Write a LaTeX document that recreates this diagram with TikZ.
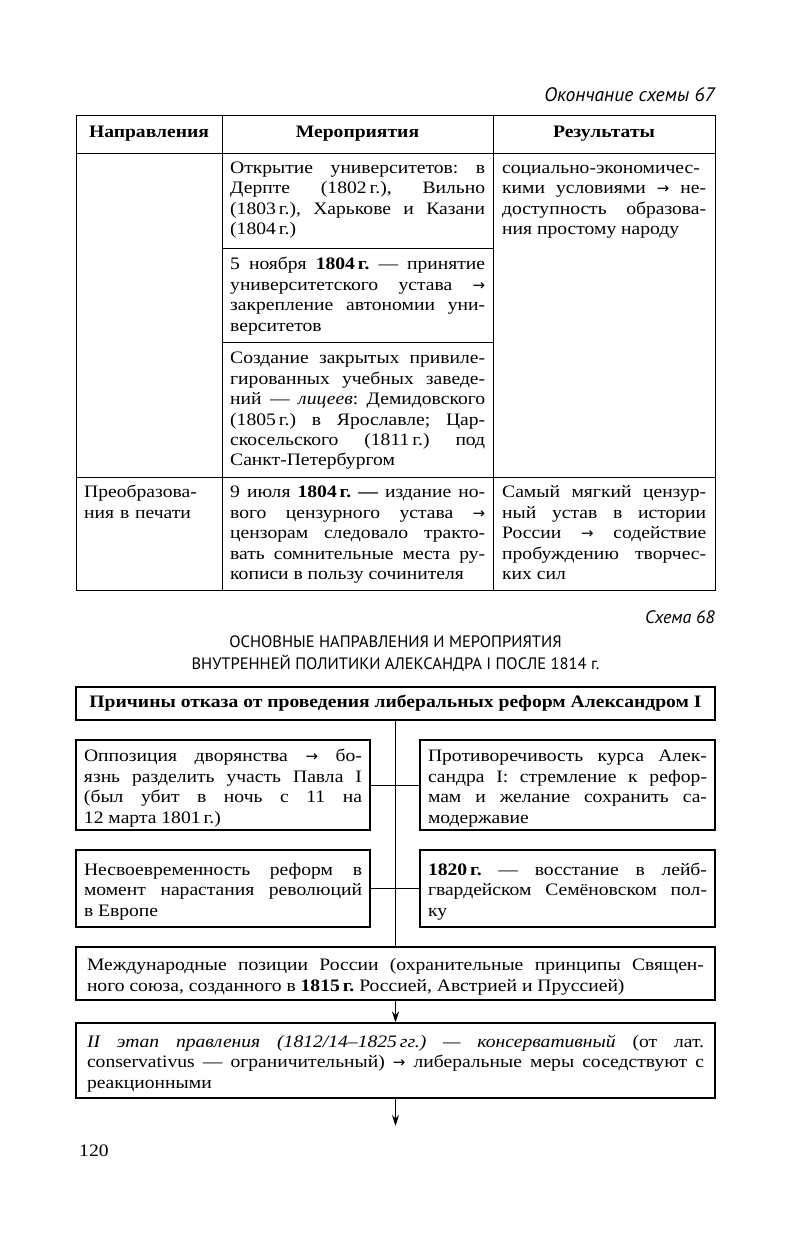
\documentclass[tikz,border=0pt]{standalone}
\usepackage{fontspec}
\setmainfont[FakeStretch=1.12]{Liberation Serif}
\newfontfamily\capfont{PT Sans}
\newfontfamily\arrowfont{DejaVu Sans}
\usetikzlibrary{arrows.meta}
\frenchspacing
\tolerance=9999
\hyphenpenalty=10000
\newcommand\jl[1]{#1\linebreak}
\newcommand\ar{{\arrowfont\fontsize{15}{15}\selectfont →}}
\begin{document}
\begin{tikzpicture}[x=1pt,y=-1pt,
  txt/.style={font=\fontsize{17.5}{20.4}\selectfont},
  cell/.style={txt, anchor=north west, align=justify, inner xsep=8pt, inner ysep=6.5pt,
    execute at begin node={\strut}},
  head/.style={txt, font=\fontsize{17.5}{20.4}\selectfont\bfseries},
  grid/.style={line width=0.9pt},
  box/.style={txt, draw, line width=1.1pt, align=justify, inner xsep=8pt, inner ysep=0pt,
    execute at begin node={\rule{0pt}{21pt}}, execute at end node={\strut}},
  wide/.style={box, text width=617pt, inner xsep=11pt},
  link/.style={line width=0.9pt},
  arr/.style={line width=0.9pt, -{Stealth[length=11pt,width=7pt]}}]
\fill[white] (0,0) rectangle (791,1245);
\useasboundingbox (0,0) rectangle (791,1245);

% captions
\node[anchor=east, font=\capfont\itshape\fontsize{19.5}{20}\selectfont, inner sep=0pt] (cap67) at (715,95) {Окончание схемы 67};

% table grid
\draw[grid] (76,115) rectangle (715,590);
\draw[grid] (76,153) -- (715,153);
\draw[grid] (76,477) -- (715,477);
\draw[grid] (222,115) -- (222,590);
\draw[grid] (493,115) -- (493,590);
\draw[grid] (222,248) -- (493,248);
\draw[grid] (222,342) -- (493,342);

% header
\node[head] (h1) at (149,134) {Направления};
\node[head] (h2) at (357.5,134) {Мероприятия};
\node[head] (h3) at (604,134) {Результаты};

% column 2
\node[cell, text width=255pt, inner ysep=6pt] (m1) at (222,153) {%
\jl{Открытие университетов: в}
\jl{Дерпте (1802\,г.), Вильно}
\jl{(1803\,г.), Харькове и Казани}
(1804\,г.)};
\node[cell, text width=255pt] (m2) at (222,249) {%
\jl{5 ноября \textbf{1804\,г.} — принятие}
\jl{университетского устава \ar}
\jl{закрепление автономии уни-}
верситетов};
\node[cell, text width=255pt] (m3) at (222,343) {%
\jl{Создание закрытых привиле-}
\jl{гированных учебных заведе-}
\jl{ний — \textit{лицеев}: Демидовского}
\jl{(1805\,г.) в Ярославле; Цар-}
\jl{скосельского (1811\,г.) под}
Санкт-Петербургом};
\node[cell, text width=255pt] (m4) at (222,477) {%
\jl{9 июля \textbf{1804\,г. —} издание но-}
\jl{вого цензурного устава \ar}
\jl{цензорам следовало тракто-}
\jl{вать сомнительные места ру-}
кописи в пользу сочинителя};

% column 3
\node[cell, text width=204pt, inner xsep=9pt, inner ysep=6pt] (r1) at (493,153) {%
\jl{социально-экономичес-}
\jl{кими условиями \ar{} не-}
\jl{доступность образова-}
ния простому народу};
\node[cell, text width=204pt, inner xsep=9pt] (r2) at (493,477) {%
\jl{Самый мягкий цензур-}
\jl{ный устав в истории}
\jl{России \ar{} содействие}
\jl{пробуждению творчес-}
ких сил};

% column 1
\node[cell, text width=130pt, align=left] (d2) at (76,477) {%
Преобразова-\\
ния в печати};

% scheme 68
\node[anchor=east, font=\capfont\itshape\fontsize{18}{20}\selectfont, inner sep=0pt] (cap68) at (715,617) {Схема 68};
\node[font=\capfont\fontsize{16.5}{22}\selectfont, align=center, inner sep=0pt] (title) at (395.5,654)
  {ОСНОВНЫЕ НАПРАВЛЕНИЯ И МЕРОПРИЯТИЯ\\ВНУТРЕННЕЙ ПОЛИТИКИ АЛЕКСАНДРА I ПОСЛЕ 1814 г.};

\node[txt, draw, line width=1.1pt, align=center, minimum width=639pt, minimum height=33pt, font=\fontsize{17.5}{20.4}\selectfont\bfseries] (top) at (395.5,703.5)
  {Причины отказа от проведения либеральных реформ Александром I};

\node[box, text width=278pt, minimum height=90pt] (A) at (223,785) {%
\jl{Оппозиция дворянства \ar{} бо-}
\jl{язнь разделить участь Павла I}
\jl{(был убит в ночь с 11 на}
12 марта 1801\,г.)};
\node[box, text width=279pt, minimum height=90pt] (B) at (567.5,785) {%
\jl{Противоречивость курса Алек-}
\jl{сандра I: стремление к рефор-}
\jl{мам и желание сохранить са-}
модержавие};
\node[box, text width=278pt, minimum height=77pt] (C) at (223,888.5) {%
\jl{Несвоевременность реформ в}
\jl{момент нарастания революций}
в Европе};
\node[box, text width=279pt, minimum height=77pt] (D) at (567.5,888.5) {%
\jl{\textbf{1820\,г.} — восстание в лейб-}
\jl{гвардейском Семёновском пол-}
ку};
\node[wide, minimum height=53pt] (E) at (395.5,973.5) {%
\jl{Международные позиции России (охранительные принципы Священ-}
ного союза, созданного в \textbf{1815\,г.} Россией, Австрией и Пруссией)};
\node[wide, minimum height=75pt] (F) at (395.5,1060.5) {%
\jl{\textit{II этап правления (1812/14–1825\,гг.) — консервативный} (от лат.}
\jl{conservativus — ограничительный) \ar{} либеральные меры соседствуют с}
реакционными};
\coordinate (end) at (395.5,1126);

\draw[link] (top.south) -- (E.north);
\draw[link] (A.east) -- (B.west);
\draw[link] (C.east) -- (D.west);
\draw[arr] (E.south) -- (F.north);
\draw[arr] (F.south) -- (end);

\node[txt, anchor=west, inner sep=0pt] (pg) at (79,1151) {120};
\end{tikzpicture}
\end{document}
